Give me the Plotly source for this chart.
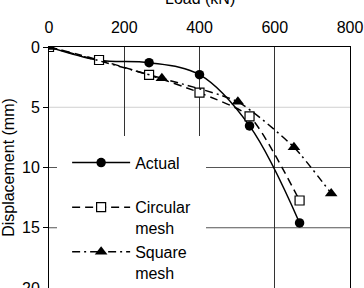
import plotly.graph_objects as go

# Data
actual_load = [0, 133, 266, 400, 533, 666]
actual_disp = [0, 1.1, 1.3, 2.3, 6.55, 14.6]

circ_load = [0, 133, 266, 400, 533, 666]
circ_disp = [0, 1.08, 2.32, 3.79, 5.75, 12.74]

sq_load = [0, 300, 502, 651, 750]
sq_disp = [0, 2.6, 4.55, 8.32, 12.15]

x_ticks = [0, 200, 400, 600, 800]
y_ticks = [0, 5, 10, 15, 20]

x_title = "Load (kN)"
y_title = "Displacement (mm)"

FONT = "Liberation Sans, Arial, sans-serif"

fig = go.Figure()
fig.add_trace(go.Scatter(
    x=actual_load, y=actual_disp, name="Actual<br> ", mode="lines+markers",
    line=dict(color="black", width=1.5, shape="spline", smoothing=1.0),
    marker=dict(symbol="circle", size=9.5, color="black"),
))
fig.add_trace(go.Scatter(
    x=circ_load, y=circ_disp, name="Circular<br>mesh", mode="lines+markers",
    line=dict(color="black", width=1.5, dash="8px,5px", shape="spline", smoothing=0.6),
    marker=dict(symbol="square", size=9, color="white", line=dict(color="black", width=1.2)),
))
fig.add_trace(go.Scatter(
    x=sq_load, y=sq_disp, name="Square<br>mesh", mode="lines+markers",
    line=dict(color="black", width=1.5, dash="8px,4px,2px,4px", shape="spline", smoothing=0.6),
    marker=dict(symbol="triangle-up", size=11, color="black"),
))

shapes = []
for v, col in [(5, "#d0d0d0"), (10, "#555555"), (15, "#555555")]:
    shapes.append(dict(type="line", xref="x", yref="y", x0=x_ticks[0], x1=x_ticks[-1], y0=v, y1=v,
                       line=dict(color=col, width=1), layer="below"))

fig.update_layout(
    width=364, height=288,
    margin=dict(l=49, r=14, t=47, b=0, pad=0, autoexpand=False),
    paper_bgcolor="white", plot_bgcolor="white",
    font=dict(family=FONT, size=16, color="black"),
    showlegend=True,
    legend=dict(
        x=0.027, y=0.632, xanchor="left", yanchor="top",
        bgcolor="white", bordercolor="white", borderwidth=10,
        font=dict(family=FONT, size=16, color="black"),
        itemwidth=58, valign="top", tracegroupgap=0,
    ),
    shapes=shapes,
    annotations=[dict(
        text=x_title, xref="paper", yref="paper", x=0.5, y=1,
        xanchor="center", yanchor="bottom", yshift=38, showarrow=False,
        font=dict(family=FONT, size=16, color="black"),
    )],
    xaxis=dict(
        side="top", range=[0, 800], tickvals=x_ticks, automargin=False,
        showgrid=True, gridcolor="#333333", gridwidth=1,
        showline=True, linecolor="black", linewidth=1, mirror=True,
        ticks="", ticklabelstandoff=7, zeroline=False,
        tickfont=dict(family=FONT, size=16, color="black"),
    ),
    yaxis=dict(
        range=[20, 0], tickvals=y_ticks, automargin=False,
        showgrid=False, zeroline=False, ticklabeloverflow="allow",
        showline=True, linecolor="black", linewidth=1, mirror=True,
        ticks="outside", ticklen=5, tickcolor="black",
        tickfont=dict(family=FONT, size=16, color="black"),
        title=dict(text=y_title, font=dict(family=FONT, size=16, color="black"), standoff=4),
    ),
)

fig.write_html("out.html")
